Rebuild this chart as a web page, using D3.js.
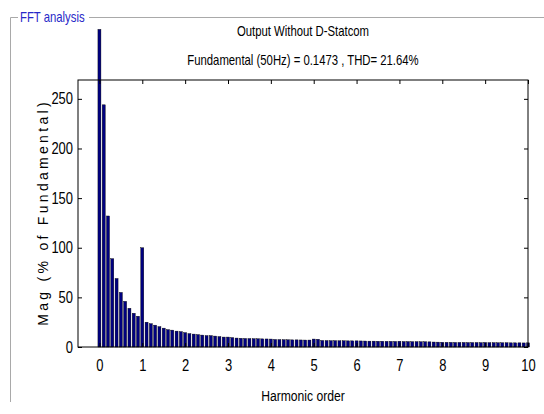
<!DOCTYPE html>
<html>
<head>
<meta charset="utf-8">
<script src="https://cdn.jsdelivr.net/npm/d3@7"></script>
<style>
  body { margin: 0; background: #fff; }
  text { font-family: "Liberation Sans", Arial, sans-serif; }
</style>
</head>
<body>
<div id="chart"></div>
<script>
// Harmonic orders (0 to 10, 5 Hz resolution)
const orders = [
  0, 0.1, 0.2, 0.3, 0.4, 0.5, 0.6, 0.7, 0.8, 0.9,
  1, 1.1, 1.2, 1.3, 1.4, 1.5, 1.6, 1.7, 1.8, 1.9,
  2, 2.1, 2.2, 2.3, 2.4, 2.5, 2.6, 2.7, 2.8, 2.9,
  3, 3.1, 3.2, 3.3, 3.4, 3.5, 3.6, 3.7, 3.8, 3.9,
  4, 4.1, 4.2, 4.3, 4.4, 4.5, 4.6, 4.7, 4.8, 4.9,
  5, 5.1, 5.2, 5.3, 5.4, 5.5, 5.6, 5.7, 5.8, 5.9,
  6, 6.1, 6.2, 6.3, 6.4, 6.5, 6.6, 6.7, 6.8, 6.9,
  7, 7.1, 7.2, 7.3, 7.4, 7.5, 7.6, 7.7, 7.8, 7.9,
  8, 8.1, 8.2, 8.3, 8.4, 8.5, 8.6, 8.7, 8.8, 8.9,
  9, 9.1, 9.2, 9.3, 9.4, 9.5, 9.6, 9.7, 9.8, 9.9,
  10
];

// Magnitude (% of fundamental)
const mags = [
  320, 244, 132, 89, 69, 55, 46, 39, 34, 31,
  100, 25, 23.5, 22, 20.5, 19, 17.5, 17, 16, 15.5,
  14.5, 13.5, 13, 12.5, 12, 11.5, 11.5, 11, 10.5, 10,
  10, 9.5, 9, 8.8, 8.6, 8.5, 8.4, 8.3, 8.2, 8.1,
  8, 7.6, 7.5, 7.4, 7.3, 7.2, 7.2, 7.1, 7, 7,
  8, 7.8, 6.6, 6.5, 6.4, 6.4, 6.3, 6.3, 6.2, 6.2,
  6.2, 6.1, 6, 5.9, 5.9, 5.8, 5.8, 5.7, 5.7, 5.6,
  5.8, 5.5, 5.5, 5.4, 5.4, 5.3, 5.3, 5.2, 5, 4.9,
  4.8, 4.7, 4.7, 4.6, 4.6, 4.6, 4.5, 4.5, 4.5, 4.4,
  4.6, 4.4, 4.4, 4.3, 4.3, 4.3, 4.2, 4.2, 4.2, 4.1,
  4.2
];

const xTicks = [0, 1, 2, 3, 4, 5, 6, 7, 8, 9, 10];
const yTicks = [0, 50, 100, 150, 200, 250];

const titleLines = ["Output Without D-Statcom", "Fundamental (50Hz) = 0.1473 , THD= 21.64%"];

const W = 544, H = 414;
const plot = { left: 78, right: 528, top: 80, bottom: 347 };
const squeeze = 0.81;   // no narrow font installed, squash Liberation Sans instead

// squash text horizontally, keeping its anchor point where it was
function narrow(sel) {
  sel.each(function() {
    const t = d3.select(this);
    const x0 = +t.attr("x") || 0;
    t.attr("x", x0 / squeeze);
    const tr = t.attr("transform") || "";
    t.attr("transform", `${tr} scale(${squeeze},1)`);
  });
}

const svg = d3.select("#chart").append("svg")
  .attr("width", W)
  .attr("height", H);

// Panel frame
const panelColor = "#a9a9a9";
svg.append("path")
  .attr("d", "M18,17.5 H10.5 V402")
  .attr("fill", "none").attr("stroke", panelColor);
svg.append("line")
  .attr("x1", 89).attr("x2", W).attr("y1", 17.5).attr("y2", 17.5)
  .attr("stroke", panelColor);
svg.append("text")
  .attr("x", 20).attr("y", 22)
  .attr("fill", "#2828c8")
  .style("font-size", "14px")
  .text("FFT analysis")
  .call(narrow);

// Scales
const x = d3.scaleLinear().domain([-0.5, 10]).range([plot.left, plot.right]);
const y = d3.scaleLinear().domain([0, 269]).range([plot.bottom, plot.top]);
const barW = (x(0.1) - x(0)) * 0.7;

// Bars (no clipping, DC bar goes above the box)
svg.append("g")
  .selectAll("rect")
  .data(orders)
  .join("rect")
    .attr("x", d => x(d) - barW / 2)
    .attr("y", (d, i) => y(mags[i]))
    .attr("width", barW)
    .attr("height", (d, i) => y(0) - y(mags[i]))
    .attr("fill", "#000080")
    .attr("stroke", "#000")
    .attr("stroke-width", 0.4);

// Axes, ticks pointing inward
const tickLen = 4;
svg.append("g")
  .attr("transform", `translate(0,${plot.bottom})`)
  .call(d3.axisBottom(x).tickValues(xTicks).tickSizeInner(-tickLen).tickSizeOuter(0).tickPadding(13))
  .call(g => g.select(".domain").remove());
svg.append("g")
  .attr("transform", `translate(0,${plot.top})`)
  .call(d3.axisTop(x).tickValues(xTicks).tickSizeInner(-tickLen).tickSizeOuter(0).tickFormat(""))
  .call(g => g.select(".domain").remove());
svg.append("g")
  .attr("transform", `translate(${plot.left},0)`)
  .call(d3.axisLeft(y).tickValues(yTicks).tickSizeInner(-tickLen).tickSizeOuter(0).tickPadding(5))
  .call(g => g.select(".domain").remove());
svg.append("g")
  .attr("transform", `translate(${plot.right},0)`)
  .call(d3.axisRight(y).tickValues(yTicks).tickSizeInner(-tickLen).tickSizeOuter(0).tickFormat(""))
  .call(g => g.select(".domain").remove());

svg.selectAll(".tick text")
  .style("font-family", "'Liberation Sans', Arial, sans-serif")
  .style("font-size", "16px")
  .attr("fill", "#000")
  .call(narrow);

// Box
svg.append("rect")
  .attr("x", plot.left).attr("y", plot.top)
  .attr("width", plot.right - plot.left)
  .attr("height", plot.bottom - plot.top)
  .attr("fill", "none")
  .attr("stroke", "#000");

// Titles
svg.selectAll(".title")
  .data(titleLines)
  .join("text")
    .attr("class", "title")
    .attr("x", (plot.left + plot.right) / 2)
    .attr("y", (d, i) => 36 + i * 29)
    .attr("text-anchor", "middle")
    .style("font-size", "14px")
    .text(d => d)
    .call(narrow);

// Axis labels
svg.append("text")
  .attr("x", (plot.left + plot.right) / 2)
  .attr("y", 401)
  .attr("text-anchor", "middle")
  .style("font-size", "15px")
  .text("Harmonic order")
  .call(narrow);

svg.append("text")
  .attr("transform", `translate(48,${(plot.top + plot.bottom) / 2 - 1}) rotate(-90)`)
  .attr("text-anchor", "middle")
  .style("font-size", "14px")
  .style("letter-spacing", "3.3px")
  .text("Mag (% of Fundamental)");
</script>
</body>
</html>
